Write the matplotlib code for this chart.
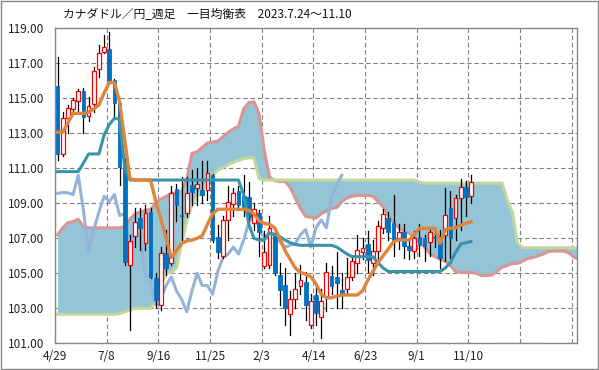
import matplotlib
matplotlib.use("Agg")
import matplotlib.pyplot as plt
from matplotlib.patches import Rectangle
import numpy as np

plt.rcParams['font.family'] = ['Noto Sans CJK JP', 'DejaVu Sans']

title = "カナダドル／円_週足　一目均衡表　2023.7.24～11.10"
tick_labels = ["4/29", "7/8", "9/16", "11/25", "2/3", "4/14", "6/23", "9/1", "11/10", "", ""]

opens = [115.7, 111.8, 113.9, 114.39, 114.85, 115.42, 113.97, 114.68, 116.66, 117.67,
         117.82, 116.05, 114.73, 111.3, 105.48, 107.13, 108.14, 106.71, 108.5, 104.75,
         103.2, 106.16, 105.6, 109.8, 108.33, 108.47, 110.05, 109.9, 109.76, 109.76,
         110.6, 107.06, 106.0, 108.05, 108.96, 109.7, 109.42, 109.34, 107.9, 108.43,
         105.4, 105.5, 107.2, 104.9, 104.33, 102.66, 103.51, 104.27, 104.49, 102.05,
         103.76, 102.52, 103.63, 104.85, 104.77, 104.05, 104.09, 104.77, 105.61, 106.24,
         106.67, 105.57, 106.3, 107.57, 108.18, 107.86, 107.0, 107.38, 106.56, 106.28,
         107.1, 107.0, 106.77, 107.1, 107.13, 107.2, 108.71, 108.14, 109.29, 109.91,
         109.44]
highs = [117.34, 114.2, 114.62, 115.0, 115.51, 115.57, 115.1, 116.81, 118.05, 118.62,
         118.81, 116.1, 114.8, 111.57, 107.19, 108.75, 108.73, 108.9, 108.73, 105.0,
         106.5, 107.5, 110.0, 110.1, 110.5, 110.5, 110.9, 111.0, 111.4, 111.4,
         110.68, 107.76, 108.3, 110.0, 109.9, 110.0, 110.6, 110.2, 109.0, 108.6,
         107.4, 108.3, 107.4, 105.6, 105.3, 104.0, 105.0, 105.5, 105.1, 103.8,
         104.4, 104.1, 105.6, 105.4, 106.24, 105.0, 105.9, 106.0, 107.2, 107.0,
         107.4, 106.9, 108.0, 108.7, 108.5, 109.5, 107.8, 107.8, 107.0, 107.4,
         107.8, 107.2, 107.5, 107.3, 107.5, 109.9, 109.7, 109.5, 110.4, 110.3,
         110.6]
lows = [111.5, 111.7, 113.0, 114.2, 114.26, 113.0, 113.72, 114.2, 116.2, 117.57,
        115.9, 113.86, 110.05, 105.5, 101.76, 106.52, 106.33, 106.33, 104.71, 103.0,
        102.9, 104.9, 105.5, 108.0, 106.9, 108.2, 108.9, 108.9, 109.0, 109.2,
        106.81, 105.85, 105.9, 106.9, 108.3, 108.6, 108.3, 107.7, 107.5, 106.0,
        105.3, 105.3, 104.9, 103.2, 102.05, 101.47, 103.0, 103.8, 102.33, 101.9,
        102.05, 101.29, 102.86, 103.8, 103.0, 103.0, 103.8, 104.6, 105.0, 105.8,
        105.1, 104.9, 105.8, 107.3, 106.9, 106.0, 106.4, 105.9, 105.8, 105.9,
        106.0, 105.7, 106.0, 106.5, 105.3, 105.7, 105.9, 106.9, 107.5, 108.3,
        109.0]
closes = [111.8, 113.9, 114.43, 114.89, 115.4, 113.91, 114.54, 116.54, 117.57, 117.95,
          116.05, 114.73, 111.1, 105.67, 106.85, 107.95, 107.57, 108.43, 104.8, 103.45,
          106.14, 105.3, 109.6, 108.9, 108.25, 109.57, 109.63, 110.1, 109.5, 110.75,
          106.9, 106.2, 108.05, 109.1, 109.57, 108.9, 108.81, 108.24, 108.65, 107.38,
          106.2, 107.6, 105.0, 104.05, 103.0, 103.51, 104.09, 104.62, 103.19, 103.42,
          102.71, 103.42, 105.06, 104.29, 104.43, 103.9, 104.8, 105.72, 106.33, 106.43,
          105.76, 106.28, 107.7, 108.37, 107.38, 106.87, 107.38, 106.58, 106.33, 107.0,
          106.62, 106.58, 107.34, 107.0, 105.86, 108.33, 107.0, 109.29, 109.91, 109.38,
          110.2]

tenkan = [113.06, 113.06, 113.6, 114.14, 114.14, 114.14, 114.2, 114.4, 114.62, 115.3,
          115.9, 115.9, 114.8, 112.6, 110.4, 110.33, 110.33, 110.33, 110.33, 109.1,
          108.1, 107.0, 105.9, 106.3, 106.7, 106.85, 106.9, 107.0, 107.15, 107.8,
          108.4, 108.66, 108.66, 108.66, 108.66, 108.66, 108.66, 108.6, 108.4, 108.0,
          107.85, 107.8, 107.6, 107.0, 106.3, 105.8, 105.3, 105.05, 104.95, 104.8,
          104.4, 103.8, 103.6, 103.6, 103.7, 103.76, 103.76, 103.76, 103.76, 104.0,
          104.6, 105.1, 105.6, 106.0, 106.4, 106.8, 106.9, 106.9, 106.9, 107.2,
          107.57, 107.57, 107.57, 107.57, 106.71, 107.5, 107.57, 107.6, 107.75, 107.85,
          107.95]
kijun = [110.81, 110.81, 110.81, 110.81, 110.81, 111.3, 111.82, 111.82, 111.82, 112.9,
         113.5, 113.86, 113.8, 111.0, 110.33, 110.33, 110.33, 110.33, 110.33, 110.33,
         110.33, 110.33, 110.33, 110.33, 110.33, 110.33, 110.33, 110.33, 110.33, 110.33,
         110.33, 110.33, 110.33, 110.33, 110.33, 110.33, 109.5, 107.8, 107.0, 106.9,
         106.9, 107.3, 107.2, 107.1, 106.9, 106.75, 106.65, 106.6, 106.6, 106.6,
         106.6, 106.6, 106.6, 106.6, 106.5, 106.3, 106.1, 105.95, 105.95, 105.95,
         105.95, 105.95, 105.6, 105.3, 105.1, 105.1, 105.1, 105.1, 105.1, 105.1,
         105.1, 105.1, 105.1, 105.1, 105.1, 105.3, 105.6, 106.2, 106.66, 106.75,
         106.81]
span_a = [107.2, 107.6, 107.9, 107.95, 108.1, 107.65, 107.6, 107.6, 107.6, 107.6,
          107.6, 107.6, 107.6, 107.65, 108.1, 108.4, 108.5, 108.6, 108.65, 109.0,
          109.25, 109.4, 109.55, 109.6, 109.7, 110.4, 111.85, 111.95, 112.2, 112.45,
          112.5, 112.55, 112.8, 113.05, 113.25, 113.4, 114.4, 114.75, 114.8, 114.1,
          112.0, 110.5, 110.3, 110.25, 110.25, 109.9, 109.3, 108.7, 108.25, 108.2,
          108.15, 108.4, 108.55, 108.7, 108.75, 109.1, 109.3, 109.4, 109.45, 109.45,
          109.45, 109.4, 109.1, 108.8, 108.3, 107.9, 107.6, 107.4, 107.3, 107.05,
          106.8, 106.5, 106.15, 105.95, 105.8, 105.7, 105.45, 105.1, 105.05, 105.05,
          105.05, 105.0, 104.87, 104.87, 104.9, 105.1, 105.35, 105.45, 105.55, 105.57,
          105.7, 105.85, 105.9, 106.0, 106.1, 106.25, 106.27, 106.27, 106.27, 106.15,
          105.9, 105.8]
span_b = [102.66, 102.66, 102.66, 102.66, 102.66, 102.66, 102.66, 102.66, 102.66, 102.66,
          102.66, 102.66, 102.7, 102.8, 102.9, 103.0, 103.0, 103.0, 103.0, 103.4,
          104.3, 105.0, 105.05, 105.3, 106.7, 108.0, 108.9, 109.4, 109.7, 110.2,
          110.6, 110.9, 111.05, 111.2, 111.35, 111.45, 111.55, 111.6, 111.6, 110.4,
          110.33, 110.33, 110.33, 110.33, 110.33, 110.33, 110.33, 110.33, 110.33, 110.33,
          110.33, 110.33, 110.33, 110.33, 110.33, 110.33, 110.33, 110.33, 110.33, 110.33,
          110.33, 110.33, 110.33, 110.33, 110.33, 110.33, 110.33, 110.33, 110.33, 110.33,
          110.2, 110.15, 110.15, 110.15, 110.15, 110.15, 110.15, 110.15, 110.15, 110.15,
          110.15, 110.15, 110.15, 110.15, 110.15, 110.15, 110.15, 109.2, 108.5, 106.7,
          106.46, 106.46, 106.46, 106.46, 106.46, 106.46, 106.46, 106.46, 106.46, 106.46,
          106.46, 106.46]
chikou = [109.57, 109.62, 109.6, 109.5, 110.6, 108.6, 106.2, 107.5, 108.5, 109.4,
          109.1, 109.5, 108.3, 108.4, 106.6, 107.4, 107.0, 104.9, 104.5, 103.2,
          103.6, 104.3, 104.8, 104.0, 103.5, 102.8, 104.0, 105.0, 104.3, 104.3,
          103.8, 105.1, 105.9, 106.1, 106.5, 106.1, 106.9, 107.9, 108.4, 107.6,
          107.0, 107.35, 107.2, 106.8, 106.5, 106.6, 106.7, 107.2, 107.5, 106.5,
          107.6, 108.05, 107.6, 109.3, 110.05, 110.6]

# colours
c_fill = '#93C5D6'
c_a = '#D99594'
c_b = '#C3D69B'
c_tenkan = '#DF8438'
c_kijun = '#3A93A8'
c_chikou = '#95B3D7'
c_down = '#0070C0'
c_up = '#FF0000'

fig = plt.figure(figsize=(5.99, 3.70), dpi=100)
ax = fig.add_axes([55/599, 1 - 343.3/370, (577 - 55)/599, (343.3 - 28.3)/370])

xa = np.arange(len(span_a)) + 0.5
ax.fill_between(xa, span_a, span_b, color=c_fill, lw=0, zorder=1)
ax.plot(xa, span_a, color=c_a, lw=2.2, zorder=2, solid_joinstyle='round')
ax.plot(xa, span_b, color=c_b, lw=2.2, zorder=2, solid_joinstyle='round')

xc = np.arange(len(chikou)) + 0.5
ax.plot(xc, chikou, color=c_chikou, lw=2.2, zorder=3, solid_joinstyle='round')

w = 0.72
for i, (o, h, l, c) in enumerate(zip(opens, highs, lows, closes)):
    x = i + 0.5
    ax.plot([x, x], [l, h], color='black', lw=0.9, zorder=4)
    lo, hi = min(o, c), max(o, c)
    if c >= o:
        r = Rectangle((x - w / 2, lo), w, max(hi - lo, 0.04), facecolor='white',
                      edgecolor=c_up, lw=0.9, zorder=5)
    else:
        r = Rectangle((x - w / 2, lo), w, max(hi - lo, 0.04), facecolor=c_down,
                      edgecolor=c_down, lw=0.6, zorder=5)
    ax.add_patch(r)

xt = np.arange(len(kijun)) + 0.5
ax.plot(xt, kijun, color=c_kijun, lw=2.2, zorder=6, solid_joinstyle='round')
ax.plot(xt, tenkan, color=c_tenkan, lw=2.4, zorder=7, solid_joinstyle='round')

ax.set_xlim(0, 101)
ax.set_ylim(101, 119)
ax.set_yticks(np.arange(101, 119.01, 2))
ax.set_yticklabels([f"{v:.2f}" for v in np.arange(101, 119.01, 2)])
ax.set_xticks(np.arange(0, 101, 10))
ax.set_xticklabels(tick_labels)
ax.tick_params(axis='both', length=0, labelsize=8.5, colors='#222222')
ax.tick_params(axis='y', pad=8)
ax.tick_params(axis='x', pad=5)
ax.grid(True, color='#808080', linestyle=(0, (4, 2.5)), lw=0.8, zorder=0)
ax.set_axisbelow(True)
for s in ax.spines.values():
    s.set_color('#888888')
    s.set_linewidth(1.0)

fig.text(63/599, 1 - 15/370, title, ha='left', va='center', fontsize=8.5, color='#111111')
fig.patches.append(Rectangle((0.001, 0.002), 0.997, 0.995, transform=fig.transFigure,
                             fill=False, edgecolor='#888888', lw=1.0))

fig.savefig('out.png', dpi=100)
